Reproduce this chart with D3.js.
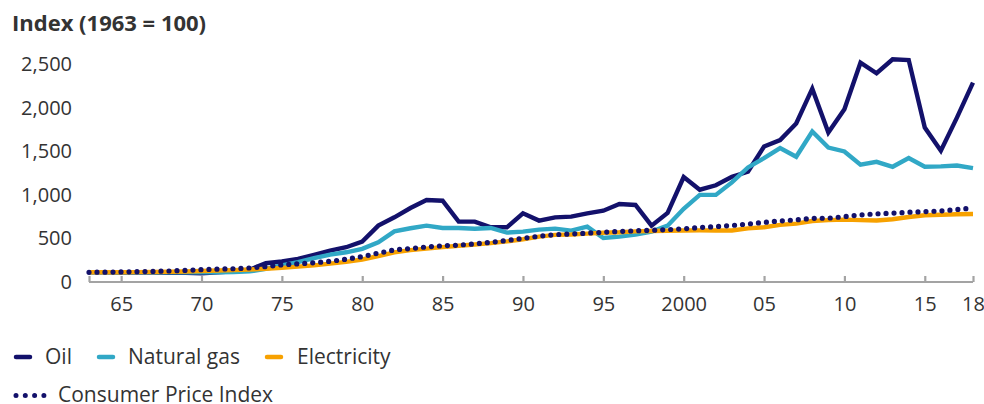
<!DOCTYPE html>
<html>
<head>
<meta charset="utf-8">
<script src="https://cdn.jsdelivr.net/npm/d3@7"></script>
<style>
  html, body { margin: 0; padding: 0; background: #fff; }
  svg { display: block; font-family: "Open Sans", "Noto Sans", sans-serif; }
</style>
</head>
<body>
<svg id="chart" width="984" height="404"></svg>
<script>
const years = d3.range(1963, 2019);
const oil = [100,100,98,97,96,95,93,88,100,110,130,204,224,254,300,350,388,453,636,732,
  839,931,923,682,682,617,617,778,694,732,740,778,808,885,874,636,782,1195,1049,1100,
  1198,1256,1546,1619,1810,2211,1706,1975,2509,2388,2548,2540,1764,1497,1878,2280];
const naturalGas = [100,100,100,100,100,100,100,100,100,102,110,140,178,216,262,304,330,369,445,571,
  606,636,610,610,600,610,556,568,590,602,579,625,495,510,533,568,636,830,990,990,
  1133,1305,1413,1527,1428,1718,1534,1489,1336,1370,1313,1413,1313,1318,1328,1298];
const electricity = [100,100,100,102,104,106,110,115,120,125,132,140,151,165,180,200,220,247,285,330,
  355,372,390,405,420,435,455,480,510,530,535,545,555,560,570,575,578,580,582,580,
  580,605,618,645,660,690,700,705,700,695,710,735,755,762,768,770];
const cpi = [100,102,104,107,110,115,122,130,136,141,150,166,186,197,210,226,250,281,320,358,
  372,392,405,412,427,444,465,490,515,533,540,550,560,570,577,583,590,600,615,625,
  638,655,674,690,703,720,722,740,760,772,780,790,797,805,822,839];

const yTicks = [0, 500, 1000, 1500, 2000, 2500];
const xTickYears = [1963, 1965, 1970, 1975, 1980, 1985, 1990, 1995, 2000, 2005, 2010, 2015, 2018];
const xTickLabels = ["", "65", "70", "75", "80", "85", "90", "95", "2000", "05", "10", "15", "18"];

const seriesNames = ["Oil", "Natural gas", "Electricity", "Consumer Price Index"];
const colors = { oil: "#13116b", gas: "#31a8c6", elec: "#f7a100", cpi: "#13116b" };

const svg = d3.select("#chart");
const x = d3.scaleLinear().domain([1963, 2018]).range([89, 973]);
const y = d3.scaleLinear().domain([0, 2500]).range([281, 63.5]);

const textColor = "#333333";

// Title
svg.append("text").attr("x", 12).attr("y", 31)
  .attr("font-size", 22).attr("font-weight", 700).attr("fill", textColor)
  .text("Index (1963 = 100)");

// Y axis labels
const yAxis = d3.axisLeft(y).tickValues(yTicks).tickSize(0).tickPadding(0)
  .tickFormat(d3.format(","));
const yg = svg.append("g").attr("transform", "translate(72,0)").call(yAxis);
yg.select(".domain").remove();
yg.selectAll("text").attr("font-size", 20).attr("fill", textColor)
  .attr("font-family", "Open Sans, sans-serif").attr("dy", "0.35em");

// X axis
const xAxis = d3.axisTop(x).tickValues(xTickYears).tickSize(6)
  .tickFormat((d, i) => xTickLabels[i]);
const xg = svg.append("g").attr("transform", "translate(0,282)").call(xAxis);
xg.select(".domain").attr("stroke", "#a3a3a3").attr("stroke-width", 2.2)
  .attr("d", `M${x(1963)},0H${x(2018)}`);
xg.selectAll(".tick line").attr("stroke", "#a3a3a3").attr("stroke-width", 2.2);
xg.selectAll(".tick text").attr("y", 0).attr("dy", "1.45em")
  .attr("font-size", 20).attr("fill", textColor).attr("font-family", "Open Sans, sans-serif");

// Lines
const line = d3.line().x((d, i) => x(years[i])).y(d => y(d));
const solid = [[oil, colors.oil], [naturalGas, colors.gas], [electricity, colors.elec]];
solid.forEach(([data, c]) => {
  svg.append("path").datum(data).attr("d", line).attr("fill", "none")
    .attr("stroke", c).attr("stroke-width", 4.4).attr("stroke-linejoin", "miter");
});
svg.append("path").datum(cpi).attr("d", line).attr("fill", "none")
  .attr("stroke", colors.cpi).attr("stroke-width", 5.2)
  .attr("stroke-linecap", "round").attr("stroke-dasharray", "0,8");

// Legend
const legend = svg.append("g");
const row1 = [
  { name: seriesNames[0], c: colors.oil, lx: 14, tx: 45 },
  { name: seriesNames[1], c: colors.gas, lx: 97, tx: 128 },
  { name: seriesNames[2], c: colors.elec, lx: 265, tx: 297 }
];
row1.forEach(r => {
  legend.append("line").attr("x1", r.lx + 2).attr("x2", r.lx + 16)
    .attr("y1", 357).attr("y2", 357).attr("stroke", r.c).attr("stroke-width", 4.5)
    .attr("stroke-linecap", "round");
  legend.append("text").attr("x", r.tx).attr("y", 357).attr("dy", "0.35em")
    .attr("font-size", 21).attr("fill", textColor).text(r.name);
});
legend.append("line").attr("x1", 16).attr("x2", 44).attr("y1", 395.5).attr("y2", 395.5)
  .attr("stroke", colors.cpi).attr("stroke-width", 5).attr("stroke-linecap", "round")
  .attr("stroke-dasharray", "0,9.3");
legend.append("text").attr("x", 58).attr("y", 394.5).attr("dy", "0.35em")
  .attr("font-size", 21).attr("fill", textColor).text(seriesNames[3]);
</script>
</body>
</html>
